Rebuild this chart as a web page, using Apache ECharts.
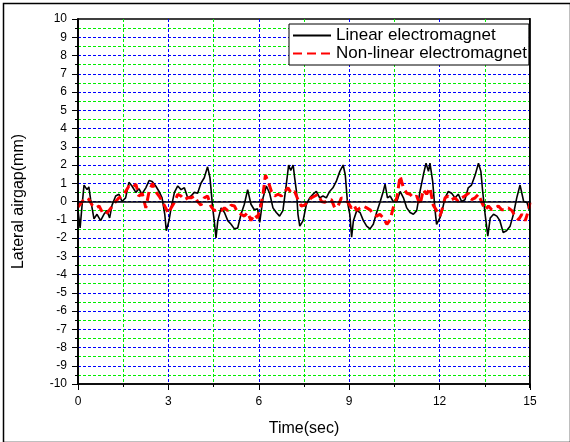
<!DOCTYPE html>
<html>
<head>
<meta charset="utf-8">
<script src="https://cdn.jsdelivr.net/npm/echarts@6/dist/echarts.min.js"></script>
<style>html,body{margin:0;padding:0;background:#fff;}#c{width:570px;height:442px;}</style>
</head>
<body>
<div id="c"></div>
<script>
// Linear electromagnet (black solid)
var linearTime = [0,0.07,0.13,0.2,0.3,0.36,0.42,0.53,0.63,0.75,0.86,0.96,1.05,1.13,1.25,1.36,1.46,1.58,1.69,1.79,1.92,2.02,2.12,2.25,2.36,2.46,2.58,2.69,2.79,2.88,2.93,3.02,3.09,3.2,3.31,3.42,3.53,3.64,3.75,3.86,3.97,4.08,4.19,4.3,4.38,4.47,4.52,4.58,4.64,4.75,4.86,4.97,5.08,5.19,5.3,5.41,5.52,5.63,5.74,5.85,5.96,6.03,6.14,6.25,6.36,6.47,6.58,6.69,6.8,6.91,6.99,7.06,7.14,7.19,7.25,7.3,7.36,7.47,7.58,7.69,7.8,7.91,8.02,8.13,8.24,8.35,8.46,8.57,8.69,8.8,8.87,8.94,9.02,9.08,9.14,9.25,9.36,9.47,9.58,9.69,9.8,9.91,10.02,10.13,10.19,10.27,10.36,10.46,10.58,10.69,10.8,10.91,11.02,11.13,11.24,11.35,11.46,11.55,11.63,11.68,11.77,11.85,11.9,12.01,12.07,12.18,12.29,12.4,12.51,12.62,12.73,12.84,12.95,13.06,13.18,13.29,13.37,13.43,13.51,13.6,13.68,13.79,13.9,14.0,14.11,14.22,14.34,14.45,14.56,14.67,14.79,14.9,14.98];
var linearGap = [-0.5,-1.45,-0.3,0.9,0.65,0.8,0.1,-0.95,-0.7,-1.05,-0.7,-0.5,-0.9,-0.2,0.3,0.4,0,0.2,1.05,0.85,0.5,0.7,0.4,0.75,1.15,1.1,0.85,0.55,0.2,-0.7,-1.6,-1.05,-0.35,0.5,0.85,0.65,0.75,0.2,0.3,0.5,0.45,1.0,1.3,1.9,1.3,-0.35,-1.05,-2.0,-1.05,-0.35,-0.6,-1.05,-1.25,-1.5,-1.45,-0.7,-0.15,0.65,-0.15,-0.45,-0.4,-1.15,0.2,0.85,0.45,-0.35,-0.6,-0.8,-0.5,0.9,2.0,1.7,2.0,1.3,0.55,-0.7,-1.35,-1.05,-0.15,0.2,0.4,0.55,0.2,0.3,0.2,0.55,0.75,1.1,1.65,2.0,1.45,0,-0.7,-1.95,-1.05,-0.5,-0.6,-1.05,-1.35,-1.5,-1.25,-0.6,-0.05,0.55,0.95,0.2,0.3,0,0,0.55,0.2,-0.35,-0.6,-0.7,-0.5,0.55,1.45,2.1,1.65,2.1,1.1,-0.5,-1.25,-0.9,-0.6,0.2,0.55,0.45,0.2,0.4,0,0.1,0.75,0.9,1.45,2.1,1.65,0.55,-0.7,-1.9,-0.9,-0.7,-0.8,-1.05,-1.7,-1.6,-1.35,-0.7,0.2,0.9,0,-0.05,-0.5];

// Non-linear electromagnet (red dashed)
var nonlinearTime = [0,0.03,0.14,0.26,0.37,0.47,0.59,0.7,0.81,0.92,1.03,1.14,1.25,1.36,1.47,1.58,1.69,1.8,1.92,2.02,2.13,2.25,2.36,2.47,2.58,2.69,2.8,2.91,3.0,3.09,3.2,3.31,3.42,3.53,3.64,3.75,3.86,3.97,4.08,4.19,4.3,4.41,4.52,4.64,4.75,4.86,4.97,5.08,5.19,5.3,5.41,5.52,5.63,5.74,5.85,5.96,6.05,6.14,6.22,6.31,6.42,6.53,6.64,6.75,6.86,6.97,7.08,7.19,7.3,7.41,7.52,7.63,7.74,7.86,7.97,8.08,8.19,8.3,8.41,8.52,8.63,8.74,8.85,8.96,9.07,9.16,9.25,9.36,9.47,9.58,9.69,9.8,9.91,10.02,10.13,10.25,10.36,10.46,10.58,10.69,10.74,10.8,10.91,11.02,11.13,11.24,11.35,11.46,11.57,11.68,11.79,11.9,12.01,12.09,12.18,12.29,12.4,12.51,12.62,12.73,12.84,12.95,13.06,13.18,13.29,13.4,13.51,13.62,13.73,13.84,13.95,14.06,14.17,14.28,14.4,14.5,14.62,14.73,14.84,14.95,15];
var nonlinearGap = [-0.3,-0.35,0,0.2,0.1,-0.2,-0.35,-0.25,-0.6,-0.7,-0.5,-0.25,0,0.2,0.3,0.55,0.85,0.75,0.95,0.3,0.45,-0.35,0.55,1.0,0.55,0.3,0,-0.35,-0.65,-0.35,-0.05,0.4,0.3,0.1,0.2,0.2,0.3,0,-0.2,0.2,0.3,-0.25,-0.5,-0.45,-0.5,-0.35,-0.5,-0.2,-0.25,-0.6,-0.7,-0.8,-0.6,-1.05,-0.7,-0.9,-0.35,0.4,1.45,1.1,0.55,0.3,0.4,0.3,0.55,0.75,0.45,0.55,0.1,-0.25,-0.2,0,0.2,0.3,0.4,0,-0.05,0.1,0.1,-0.35,-0.25,0.2,0.1,-0.05,-0.35,-0.2,-0.5,-0.35,-0.25,-0.35,-0.45,-0.7,-0.8,-0.7,-0.9,-1.25,-1.0,-0.35,0.2,1.4,1.1,0.75,0.45,0.4,0.2,0.3,-0.2,0.65,0.4,0.75,-0.2,-0.5,-0.8,-0.4,0.2,0.3,0.1,0.2,0,0.2,0.3,0.45,0.1,0.2,0.4,-0.05,-0.45,-0.25,-0.45,-0.35,-0.25,-0.45,-0.45,-0.35,-0.5,-0.8,-1.0,-0.7,-1.05,-0.5,-0.05];

var xTicks = [0, 3, 6, 9, 12, 15];
var yMin = -10, yMax = 10;
var seriesNames = ['Linear electromagnet', 'Non-linear electromagnet'];

function pairs(t, v) { return t.map(function (x, i) { return [x, v[i]]; }); }

var FONT = 'Liberation Sans, Arial, sans-serif';
var chart = echarts.init(document.getElementById('c'), null, {renderer: 'canvas'});
chart.setOption({
  animation: false,
  backgroundColor: '#fff',
  graphic: [{
    type: 'rect', left: 1, top: 1, silent: true, z: 100,
    shape: {x: 0, y: 0, width: 567, height: 439},
    style: {fill: 'none', stroke: '#000', lineWidth: 1.5}
  }, {
    type: 'rect', left: 529, top: 18, silent: true, z: 50,
    shape: {x: 0, y: 0, width: 1.5, height: 370},
    style: {fill: '#000'}
  }],
  grid: {left: 78, right: 40, top: 19, bottom: 55, show: true, borderColor: '#000', borderWidth: 1.5, backgroundColor: '#fff'},
  legend: {
    orient: 'vertical', left: 289, top: 24,
    backgroundColor: '#fff', borderColor: '#000', borderWidth: 1, borderRadius: 0,
    padding: [3, 2, 3, 3], itemGap: 1, itemWidth: 38, itemHeight: 14,
    itemStyle: {opacity: 0},
    textStyle: {fontSize: 17, fontFamily: FONT, color: '#000'},
    data: seriesNames
  },
  xAxis: [{
    type: 'value', min: xTicks[0], max: xTicks[xTicks.length - 1], interval: 3,
    name: 'Time(sec)', nameLocation: 'middle', nameGap: 37,
    nameTextStyle: {fontSize: 16, fontFamily: FONT, color: '#000'},
    axisLine: {show: true, onZero: false, lineStyle: {color: '#000', width: 1.5}},
    axisTick: {show: true, inside: false, length: 6, lineStyle: {color: '#000', width: 1}},
    minorTick: {show: true, splitNumber: 2, length: 3, lineStyle: {color: '#000', width: 1}},
    axisLabel: {fontSize: 12, fontFamily: FONT, color: '#000', margin: 12},
    splitLine: {show: true, showMinLine: false, showMaxLine: false, lineStyle: {color: '#0000ff', width: 1, type: [3, 2]}},
    minorSplitLine: {show: true, lineStyle: {color: '#00ee00', width: 1, type: [3, 2]}}
  }, {
    type: 'value', position: 'top', min: 0, max: 15, z: 5,
    axisLine: {show: true, lineStyle: {color: '#000', width: 1.5}},
    axisTick: {show: false}, axisLabel: {show: false}, splitLine: {show: false}
  }],
  yAxis: [{
    type: 'value', min: yMin, max: yMax, interval: 1,
    name: 'Lateral airgap(mm)', nameLocation: 'middle', nameGap: 51, nameRotate: 90,
    nameTextStyle: {fontSize: 16, fontFamily: FONT, color: '#000'},
    axisLine: {show: true, onZero: false, lineStyle: {color: '#000', width: 1.5}},
    axisTick: {show: true, inside: false, length: 6, lineStyle: {color: '#000', width: 1}},
    minorTick: {show: true, splitNumber: 2, length: 3, lineStyle: {color: '#000', width: 1}},
    axisLabel: {fontSize: 12, fontFamily: FONT, color: '#000', margin: 11},
    splitLine: {show: true, showMinLine: false, showMaxLine: false, lineStyle: {color: '#0000ff', width: 1, type: [3, 2]}},
    minorSplitLine: {show: true, lineStyle: {color: '#00ee00', width: 1, type: [3, 2]}}
  }, {
    type: 'value', position: 'right', min: yMin, max: yMax, z: 5,
    axisLine: {show: true, lineStyle: {color: '#000', width: 1.5}},
    axisTick: {show: false}, axisLabel: {show: false}, splitLine: {show: false}
  }],
  series: [{
    name: seriesNames[0], type: 'line', symbol: 'none', smooth: false,
    lineStyle: {color: '#000', width: 1.6, type: 'solid'},
    itemStyle: {color: '#000'},
    data: pairs(linearTime, linearGap), z: 3
  }, {
    name: seriesNames[1], type: 'line', symbol: 'none', smooth: false,
    lineStyle: {color: '#ff0000', width: 3, type: [9, 5]},
    itemStyle: {color: '#ff0000'},
    data: pairs(nonlinearTime, nonlinearGap), z: 4
  }]
});
</script>
</body>
</html>
